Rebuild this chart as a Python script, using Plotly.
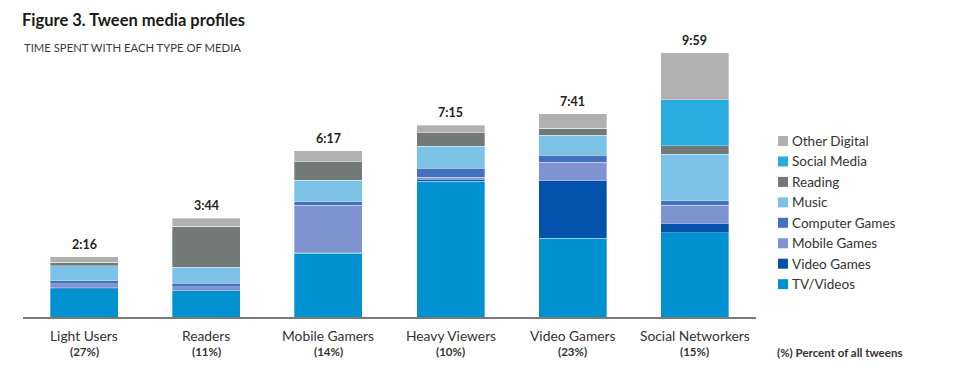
import plotly.graph_objects as go

categories = ["Light Users", "Readers", "Mobile Gamers", "Heavy Viewers", "Video Gamers", "Social Networkers"]
shares = ["(27%)", "(11%)", "(14%)", "(10%)", "(23%)", "(15%)"]

# minutes per day, by media type (stack order bottom -> top)
tv_videos = [64, 59, 144, 308, 178, 191]
video_games = [3, 0, 3, 4, 131, 22]
mobile_games = [8, 9, 106, 5, 42, 40]
computer_games = [7, 9, 8, 20, 16, 10]
music = [34, 36, 49, 50, 45, 106]
reading = [8, 93, 42, 30, 16, 19]
social_media = [0, 0, 0, 0, 0, 104]
other_digital = [12, 18, 25, 18, 33, 107]

series = [
    ("TV/Videos", tv_videos, "#0092d0"),
    ("Video Games", video_games, "#0353ad"),
    ("Mobile Games", mobile_games, "#7e93cf"),
    ("Computer Games", computer_games, "#4470c0"),
    ("Music", music, "#7cc2e6"),
    ("Reading", reading, "#727977"),
    ("Social Media", social_media, "#29ade0"),
    ("Other Digital", other_digital, "#b0b0b0"),
]

FONT = "Lato"

fig = go.Figure()
for name, vals, col in series:
    fig.add_trace(go.Bar(
        x=categories, y=vals, name=name, width=0.556,
        marker=dict(color=col, line=dict(color="rgba(255,255,255,0.55)", width=0.6)),
        showlegend=False,
    ))

# pixel geometry helpers
PL, PR, PT, PB = 23, 756, 40, 317
def px(X):
    return (X - PL) / (PR - PL)
def py(Y):
    return (PB - Y) / (PB - PT)

totals = [sum(s[1][i] for s in series) for i in range(len(categories))]
annotations = []
for i, c in enumerate(categories):
    t = totals[i]
    annotations.append(dict(x=c, y=t, xref="x", yref="y", text="<b>%d:%02d</b>" % (t // 60, t % 60),
                            showarrow=False, yanchor="bottom", yshift=3,
                            font=dict(family=FONT, size=12.5, color="#222")))
    annotations.append(dict(x=c, y=0, xref="x", yref="paper", text=c, showarrow=False,
                            yanchor="top", yshift=-8, font=dict(family=FONT, size=13.8, color="#333")))
    annotations.append(dict(x=c, y=0, xref="x", yref="paper", text="<b>" + shares[i] + "</b>", showarrow=False,
                            yanchor="top", yshift=-26, font=dict(family=FONT, size=11.5, color="#333")))

annotations.append(dict(x=px(775), y=py(352), xref="paper", yref="paper", text="<b>(%) Percent of all tweens</b>",
                        showarrow=False, xanchor="left", yanchor="middle",
                        font=dict(family=FONT, size=11.5, color="#333")))

annotations.append(dict(x=px(22), y=py(48), xref="paper", yref="paper", xanchor="left", yanchor="middle",
                        text="TIME SPENT WITH EACH TYPE OF MEDIA", showarrow=False,
                        font=dict(family=FONT, size=11.3, color="#3a3a3a")))

shapes = []
legend_order = list(reversed(series))
for k, (name, vals, col) in enumerate(legend_order):
    cy = 141 + k * 20.45
    shapes.append(dict(type="rect", xref="paper", yref="paper",
                       x0=px(778), x1=px(788), y0=py(cy - 5), y1=py(cy + 5),
                       fillcolor=col, line=dict(width=0)))
    annotations.append(dict(x=px(790), y=py(cy), xref="paper", yref="paper", text=name,
                            showarrow=False, xanchor="left", yanchor="middle",
                            font=dict(family=FONT, size=13.5, color="#333")))

fig.update_layout(
    width=967, height=379,
    margin=dict(l=PL, r=967 - PR, t=PT, b=379 - PB),
    barmode="stack",
    paper_bgcolor="white", plot_bgcolor="white",
    title=dict(text="<b>Figure 3. Tween media profiles</b>", x=22 / 967, xanchor="left",
               y=1 - 20 / 379, yanchor="middle", font=dict(family=FONT, size=16.5, color="#1a1a1a")),
    xaxis=dict(range=[-0.5, 5.5], showticklabels=False, showline=True, linecolor="#7a7a7a",
               linewidth=2, ticks="", showgrid=False, zeroline=False),
    yaxis=dict(range=[0, (PB - PT) / 0.4413], visible=False, showgrid=False),
    annotations=annotations,
    shapes=shapes,
)
fig.write_html("out.html", config={"displayModeBar": False},
               post_script="document.body.style.margin='0';")
